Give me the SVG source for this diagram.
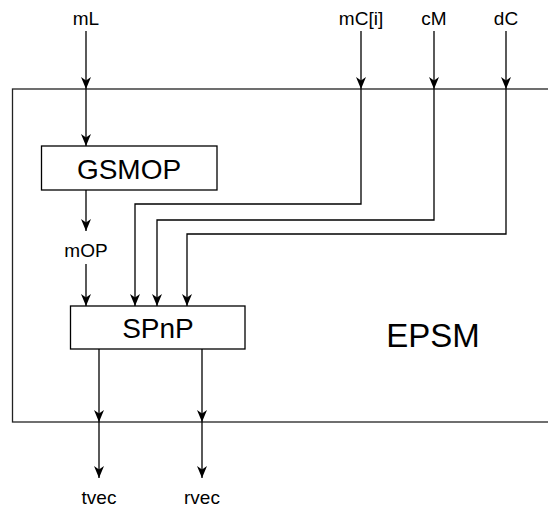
<svg xmlns="http://www.w3.org/2000/svg" width="548" height="508" viewBox="0 0 548 508">
<style>
.box{fill:#fff;stroke:#000;stroke-width:1.3}
.outer{fill:#fff;stroke:#222;stroke-width:1.3}
.c{fill:none;stroke:#000;stroke-width:1.3}
.t{font-family:"Liberation Sans",Arial,sans-serif;fill:#000;text-anchor:middle}
.s{font-size:19px}
.b{font-size:28px}
.e{font-size:33px}
</style>
<defs>
<marker id="a" markerUnits="userSpaceOnUse" markerWidth="13" markerHeight="12" viewBox="0 0 13 11" refX="12" refY="5.5" orient="auto">
<path d="M0,0.5 L12,5.5 L0,10.5 L3.5,5.5 Z" fill="#000"/>
</marker>
</defs>
<g id="EPSM">
<rect class="outer" x="12.5" y="89" width="560" height="333"/>
<text class="t e" x="433" y="347">EPSM</text>
</g>
<g id="connectors">
<path class="c" d="M86,31 L86,89" marker-end="url(#a)"/>
<path class="c" d="M86,89 L86,146" marker-end="url(#a)"/>
<path class="c" d="M86,190 L86,231" marker-end="url(#a)"/>
<path class="c" d="M86,264 L86,306" marker-end="url(#a)"/>
<path class="c" d="M361,31 L361,89" marker-end="url(#a)"/>
<path class="c" d="M361,89 L361,204 L135,204 L135,306" marker-end="url(#a)"/>
<path class="c" d="M434,31 L434,89" marker-end="url(#a)"/>
<path class="c" d="M434,89 L434,220 L157,220 L157,306" marker-end="url(#a)"/>
<path class="c" d="M506,31 L506,89" marker-end="url(#a)"/>
<path class="c" d="M506,89 L506,234 L187,234 L187,306" marker-end="url(#a)"/>
<path class="c" d="M99,349 L99,422" marker-end="url(#a)"/>
<path class="c" d="M99,422 L99,478" marker-end="url(#a)"/>
<path class="c" d="M202,349 L202,422" marker-end="url(#a)"/>
<path class="c" d="M202,422 L202,478" marker-end="url(#a)"/>
</g>
<g id="GSMOP">
<rect class="box" x="41.5" y="146" width="175.5" height="44"/>
<text class="t b" x="129" y="179">GSMOP</text>
</g>
<g id="SPnP">
<rect class="box" x="70.5" y="306" width="174.5" height="43"/>
<text class="t b" x="158" y="338">SPnP</text>
</g>
<g id="labels">
<text class="t s" x="86" y="25">mL</text>
<text class="t s" x="361" y="25">mC[i]</text>
<text class="t s" x="434" y="25">cM</text>
<text class="t s" x="506" y="25">dC</text>
<text class="t s" x="86" y="257">mOP</text>
<text class="t s" x="99" y="504">tvec</text>
<text class="t s" x="202" y="504">rvec</text>
</g>
</svg>
